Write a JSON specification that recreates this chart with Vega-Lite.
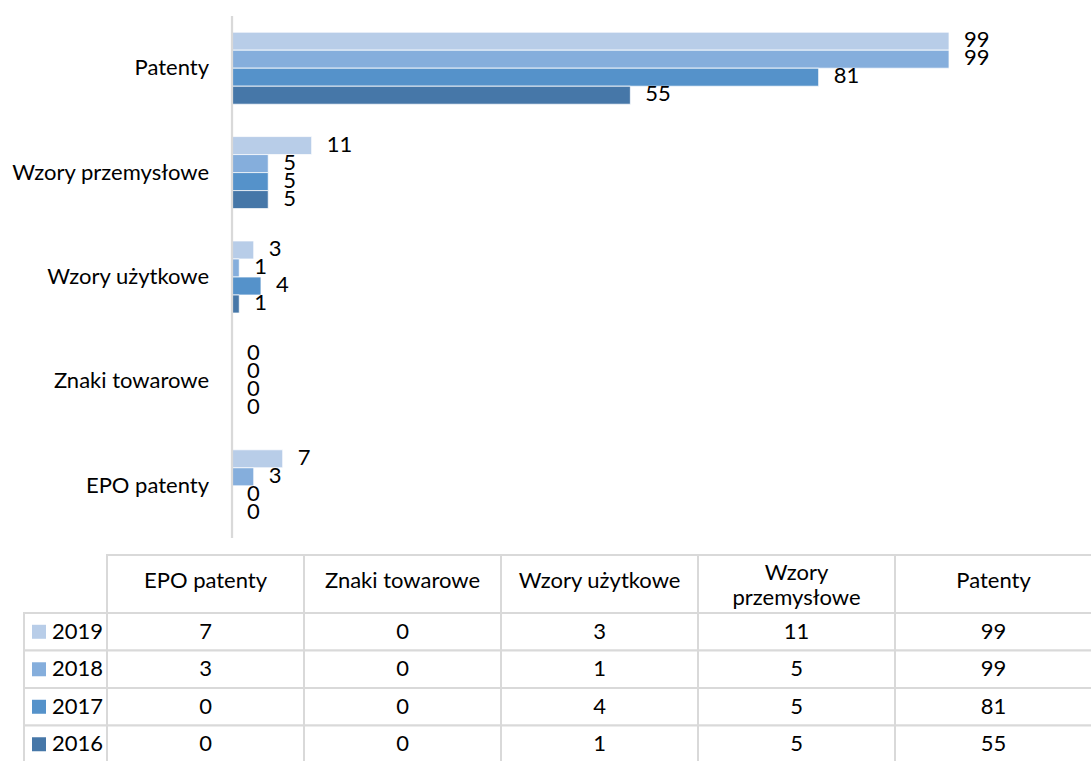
{
  "$schema": "https://vega.github.io/schema/vega-lite/v6.json",
  "padding": {"left": 11, "top": 14, "right": 0, "bottom": 0},
  "autosize": {"type": "pad"},
  "background": "white",
  "config": {
    "view": {"stroke": null},
    "font": "Lato",
    "text": {"font": "Lato", "fontSize": 22, "color": "#000000"}
  },
  "datasets": {
    "vals": [
      {"category": "Patenty", "year": "2019", "value": 99},
      {"category": "Patenty", "year": "2018", "value": 99},
      {"category": "Patenty", "year": "2017", "value": 81},
      {"category": "Patenty", "year": "2016", "value": 55},
      {"category": "Wzory przemysłowe", "year": "2019", "value": 11},
      {"category": "Wzory przemysłowe", "year": "2018", "value": 5},
      {"category": "Wzory przemysłowe", "year": "2017", "value": 5},
      {"category": "Wzory przemysłowe", "year": "2016", "value": 5},
      {"category": "Wzory użytkowe", "year": "2019", "value": 3},
      {"category": "Wzory użytkowe", "year": "2018", "value": 1},
      {"category": "Wzory użytkowe", "year": "2017", "value": 4},
      {"category": "Wzory użytkowe", "year": "2016", "value": 1},
      {"category": "Znaki towarowe", "year": "2019", "value": 0},
      {"category": "Znaki towarowe", "year": "2018", "value": 0},
      {"category": "Znaki towarowe", "year": "2017", "value": 0},
      {"category": "Znaki towarowe", "year": "2016", "value": 0},
      {"category": "EPO patenty", "year": "2019", "value": 7},
      {"category": "EPO patenty", "year": "2018", "value": 3},
      {"category": "EPO patenty", "year": "2017", "value": 0},
      {"category": "EPO patenty", "year": "2016", "value": 0}
    ],
    "cols": [
      {"category": "EPO patenty", "header": "EPO patenty", "lines": 1},
      {"category": "Znaki towarowe", "header": "Znaki towarowe", "lines": 1},
      {"category": "Wzory użytkowe", "header": "Wzory użytkowe", "lines": 1},
      {"category": "Wzory przemysłowe", "header": "Wzory\nprzemysłowe", "lines": 2},
      {"category": "Patenty", "header": "Patenty", "lines": 1}
    ],
    "years": [
      {"year": "2019"},
      {"year": "2018"},
      {"year": "2017"},
      {"year": "2016"}
    ],
    "one": [{}]
  },
  "spacing": 17,
  "bounds": "flush",
  "resolve": {"scale": {"x": "independent", "y": "independent"}},
  "vconcat": [
    {
      "width": 1068,
      "height": 522,
      "layer": [
        {
          "data": {"name": "vals"},
          "mark": {"type": "bar", "stroke": "white", "strokeWidth": 0.75},
          "encoding": {
            "y": {"field": "category", "type": "nominal", "scale": {"domain": ["Patenty", "Wzory przemysłowe", "Wzory użytkowe", "Znaki towarowe", "EPO patenty"], "paddingInner": 0.31, "paddingOuter": 0.155}, "axis": null},
            "yOffset": {"field": "year", "type": "nominal", "scale": {"domain": ["2019", "2018", "2017", "2016"], "paddingInner": 0, "paddingOuter": 0}},
            "x": {"field": "value", "type": "quantitative", "scale": {"domain": [-28.72, 118.74], "nice": false, "zero": false}, "axis": null},
            "x2": {"datum": 0},
            "color": {"field": "year", "type": "nominal", "scale": {"domain": ["2019", "2018", "2017", "2016"], "range": ["#B8CDE8", "#85AEDC", "#5592CA", "#4677A8"]}, "legend": null}
          }
        },
        {
          "data": {"name": "vals"},
          "mark": {"type": "text", "align": "left", "baseline": "middle", "dx": 15, "dy": -1},
          "encoding": {
            "y": {"field": "category", "type": "nominal"},
            "yOffset": {"field": "year", "type": "nominal"},
            "x": {"field": "value", "type": "quantitative"},
            "text": {"field": "value", "type": "quantitative"}
          }
        },
        {
          "data": {"name": "cols"},
          "mark": {"type": "text", "align": "right", "baseline": "middle", "dx": -23},
          "encoding": {
            "y": {"field": "category", "type": "nominal"},
            "x": {"datum": 0},
            "text": {"field": "category", "type": "nominal"}
          }
        },
        {
          "data": {"name": "one"},
          "mark": {"type": "rule", "color": "#D9D9D9", "strokeWidth": 2.25},
          "encoding": {"x": {"datum": 0}}
        }
      ]
    },
    {
      "spacing": 0,
      "bounds": "flush",
      "resolve": {"scale": {"x": "independent", "y": "independent"}},
      "hconcat": [
        {
          "width": 83,
          "height": 208,
          "data": {"name": "years"},
          "encoding": {
            "y": {"field": "year", "type": "nominal", "scale": {"domain": ["2019", "2018", "2017", "2016"], "paddingInner": 0, "paddingOuter": 0.774, "align": 1}, "axis": null}
          },
          "layer": [
            {"mark": {"type": "rect", "fill": "white", "stroke": "#D9D9D9", "strokeWidth": 2}},
            {
              "mark": {"type": "square", "size": 196, "filled": true, "opacity": 1, "xOffset": -26.5},
              "encoding": {"color": {"field": "year", "type": "nominal", "legend": null}}
            },
            {
              "mark": {"type": "text", "align": "left", "baseline": "middle", "dx": -13.5},
              "encoding": {"text": {"field": "year", "type": "nominal"}}
            }
          ]
        },
        {
          "spacing": 0,
          "bounds": "flush",
          "resolve": {"scale": {"x": "independent", "y": "independent"}},
          "vconcat": [
            {
              "width": 985,
              "height": 58,
              "data": {"name": "cols"},
              "encoding": {
                "x": {"field": "category", "type": "nominal", "scale": {"domain": ["EPO patenty", "Znaki towarowe", "Wzory użytkowe", "Wzory przemysłowe", "Patenty"], "paddingInner": 0, "paddingOuter": 0}, "axis": null}
              },
              "layer": [
                {"mark": {"type": "rect", "fill": "white", "stroke": "#D9D9D9", "strokeWidth": 2}},
                {
                  "transform": [{"filter": "datum.lines == 1"}],
                  "mark": {"type": "text", "align": "center", "baseline": "middle", "dy": -3},
                  "encoding": {"text": {"field": "header", "type": "nominal"}}
                },
                {
                  "transform": [{"filter": "datum.lines == 2"}],
                  "mark": {"type": "text", "align": "center", "baseline": "alphabetic", "lineBreak": "\n", "lineHeight": 25, "dy": -4},
                  "encoding": {"text": {"field": "header", "type": "nominal"}}
                }
              ]
            },
            {
              "width": 985,
              "height": 150,
              "data": {"name": "vals"},
              "encoding": {
                "x": {"field": "category", "type": "nominal", "scale": {"domain": ["EPO patenty", "Znaki towarowe", "Wzory użytkowe", "Wzory przemysłowe", "Patenty"], "paddingInner": 0, "paddingOuter": 0}, "axis": null},
                "y": {"field": "year", "type": "nominal", "scale": {"domain": ["2019", "2018", "2017", "2016"], "paddingInner": 0, "paddingOuter": 0}, "axis": null}
              },
              "layer": [
                {"mark": {"type": "rect", "fill": "white", "stroke": "#D9D9D9", "strokeWidth": 2}},
                {
                  "mark": {"type": "text", "align": "center", "baseline": "middle"},
                  "encoding": {"text": {"field": "value", "type": "quantitative"}}
                }
              ]
            }
          ]
        }
      ]
    }
  ]
}
